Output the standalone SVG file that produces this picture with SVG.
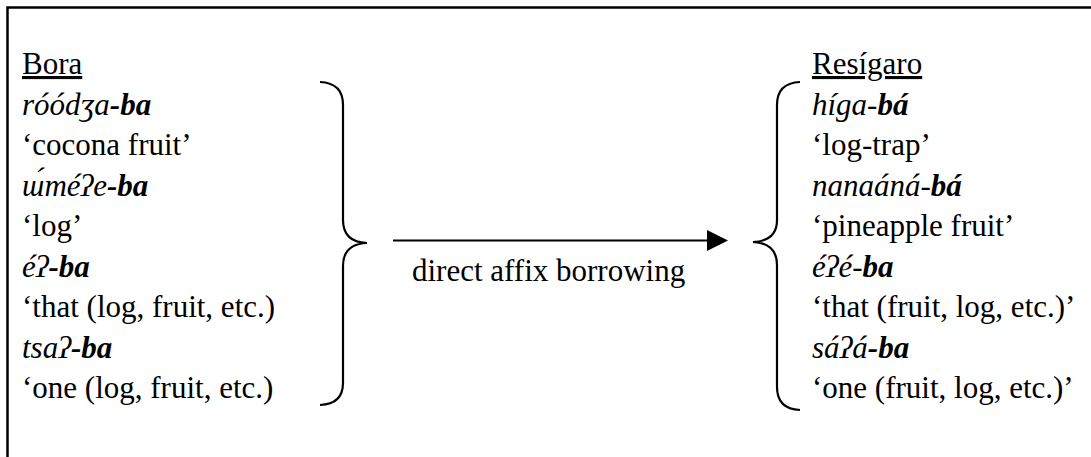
<svg xmlns="http://www.w3.org/2000/svg" width="1091" height="457" viewBox="0 0 1091 457">
<style>
text{font-family:"Liberation Serif","Times New Roman",serif;font-size:31px;fill:#000}
.i{font-style:italic}
.b{font-style:italic;font-weight:bold}
.u{text-decoration:underline}
.br{fill:none;stroke:#000;stroke-width:2.2}
</style>
<defs>
<marker id="ah" markerWidth="21" markerHeight="21" refX="0" refY="10.5" orient="auto" markerUnits="userSpaceOnUse" viewBox="0 0 21 21">
<path d="M0,0 L21,10.5 L0,21 Z" fill="#000"/>
</marker>
</defs>
<rect width="1091" height="457" fill="#fff"/>
<g id="frame"><path d="M7.5,457 V7.5 H1091" fill="none" stroke="#000" stroke-width="2.5"/></g>
<g id="bora">
<text x="22" y="74" class="u">Bora</text>
<text x="22" y="114.5"><tspan class="i">róódʒa</tspan><tspan class="b">-ba</tspan></text>
<text x="22" y="155">‘cocona fruit’</text>
<text x="22" y="195.5"><tspan class="i">ɯ́méʔe</tspan><tspan class="b">-ba</tspan></text>
<text x="22" y="236">‘log’</text>
<text x="22" y="276.5"><tspan class="i">éʔ</tspan><tspan class="b">-ba</tspan></text>
<text x="22" y="317">‘that (log, fruit, etc.)</text>
<text x="22" y="357.5"><tspan class="i">tsaʔ</tspan><tspan class="b">-ba</tspan></text>
<text x="22" y="398">‘one (log, fruit, etc.)</text>
</g>
<g id="resigaro">
<text x="812" y="74" class="u">Resígaro</text>
<text x="812" y="114.5"><tspan class="i">híga-</tspan><tspan class="b">bá</tspan></text>
<text x="812" y="155">‘log-trap’</text>
<text x="812" y="195.5"><tspan class="i">nanaáná-</tspan><tspan class="b">bá</tspan></text>
<text x="812" y="236">‘pineapple fruit’</text>
<text x="812" y="276.5"><tspan class="i">éʔé-</tspan><tspan class="b">ba</tspan></text>
<text x="812" y="317">‘that (fruit, log, etc.)’</text>
<text x="812" y="357.5"><tspan class="i">sáʔá</tspan><tspan class="b">-ba</tspan></text>
<text x="812" y="398">‘one (fruit, log, etc.)’</text>
</g>
<g id="connectors">
<path class="br" d="M320,82 Q343,83 343,105 V220 Q343,242 367,243 Q343,244 343,266 V383 Q343,404 320,405"/>
<path class="br" d="M800,82 Q777,83 777,105 V220 Q777,241 753,242 Q777,243 777,265 V387 Q777,409 800,410"/>
<line x1="393" y1="240.5" x2="707" y2="240.5" stroke="#000" stroke-width="2.2" marker-end="url(#ah)"/>
<text x="412" y="281">direct affix borrowing</text>
</g>
</svg>
